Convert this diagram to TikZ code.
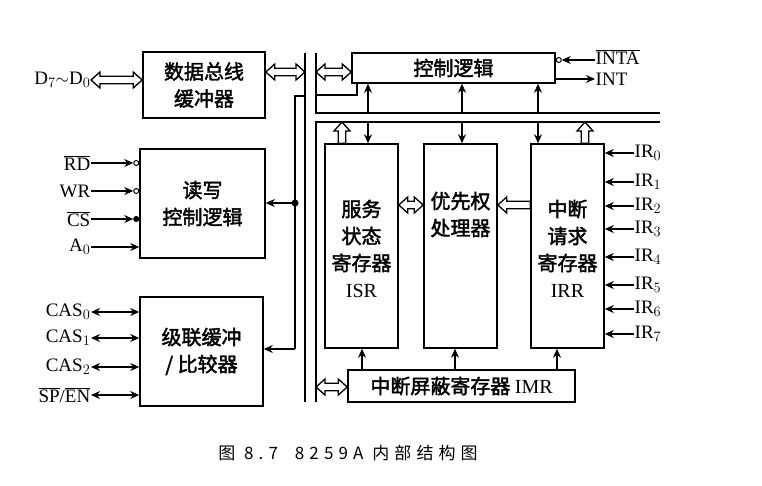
\documentclass[tikz,border=0pt]{standalone}
\usepackage{fontspec}
\setmainfont{Liberation Serif}
\newfontfamily\cjk[FakeBold=2]{Noto Sans CJK SC}
\newfontfamily\capf[LetterSpace=30]{Noto Sans CJK SC}
\usetikzlibrary{arrows.meta, positioning, calc}

\begin{document}
\begin{tikzpicture}[x=1pt, y=-1pt,
    blk/.style={draw, line width=1.5pt, inner sep=0pt, align=center,
      font=\cjk\fontsize{20}{27}\selectfont},
    ln/.style={line width=1.5pt},
    sarr/.style={line width=1.4pt, -{Stealth[length=9pt, width=8pt]}},
    darr/.style={line width=1.4pt, {Stealth[length=9pt, width=8pt]}-{Stealth[length=9pt, width=8pt]}},
    hol/.style={draw, line width=1.3pt, fill=white, to path={
      ($(\tikztostart)!3.8pt!90:(\tikztotarget)$)
      -- ($(\tikztotarget)!9pt!(\tikztostart)!3.8pt!90:(\tikztotarget)$)
      -- ($(\tikztotarget)!9pt!(\tikztostart)!8pt!90:(\tikztotarget)$)
      -- (\tikztotarget)
      -- ($(\tikztotarget)!9pt!(\tikztostart)!8pt!-90:(\tikztotarget)$)
      -- ($(\tikztotarget)!9pt!(\tikztostart)!3.8pt!-90:(\tikztotarget)$)
      -- ($(\tikztostart)!3.8pt!-90:(\tikztotarget)$) -- cycle}},
    dhol/.style={draw, line width=1.3pt, fill=white, to path={
      (\tikztostart)
      -- ($(\tikztostart)!9pt!(\tikztotarget)!8pt!90:(\tikztotarget)$)
      -- ($(\tikztostart)!9pt!(\tikztotarget)!3.8pt!90:(\tikztotarget)$)
      -- ($(\tikztotarget)!9pt!(\tikztostart)!3.8pt!90:(\tikztotarget)$)
      -- ($(\tikztotarget)!9pt!(\tikztostart)!8pt!90:(\tikztotarget)$)
      -- (\tikztotarget)
      -- ($(\tikztotarget)!9pt!(\tikztostart)!8pt!-90:(\tikztotarget)$)
      -- ($(\tikztotarget)!9pt!(\tikztostart)!3.8pt!-90:(\tikztotarget)$)
      -- ($(\tikztostart)!9pt!(\tikztotarget)!3.8pt!-90:(\tikztotarget)$)
      -- ($(\tikztostart)!9pt!(\tikztotarget)!8pt!-90:(\tikztotarget)$) -- cycle}},
    bub/.style={circle, draw, line width=1pt, inner sep=0pt, minimum size=5pt, fill=white},
    lab/.style={inner sep=0.5pt, font=\fontsize{19}{19}\selectfont}]
  \useasboundingbox (0,0) rectangle (762,485);

  % left blocks
  \node[blk, minimum width=122pt, minimum height=66pt] (dbb) at (204,85) {数据总线\\缓冲器};
  \node[blk, minimum width=125pt, minimum height=109pt] (rwc) at (202.5,203.5) {读写\\控制逻辑};
  \node[blk, minimum width=123pt, minimum height=109pt] (cas) at (201.5,351.5) {级联缓冲\\/ 比较器};

  % right blocks
  \node[blk, minimum width=203pt, minimum height=30pt] (ctl) at (453.5,68) {控制逻辑};
  \node[blk, minimum width=73pt, minimum height=204pt] (isr) at (361.5,246) {};
  \node[blk, minimum width=73pt, minimum height=204pt] (pr) at (460.5,246) {};
  \node[blk, minimum width=73pt, minimum height=204pt] (irr) at (567.5,246) {};
  \node[blk, minimum width=227pt, minimum height=32pt] (imr) at (461.5,386) {中断屏蔽寄存器 {\rmfamily IMR}};
  \node[blk, draw=none, anchor=north] (isrt) at (361.5,199) {服务\\状态\\寄存器\\{\rmfamily ISR}};
  \node[blk, draw=none, anchor=north] (prt) at (460.5,191) {优先权\\处理器};
  \node[blk, draw=none, anchor=north] (irrt) at (567.5,199) {中断\\请求\\寄存器\\{\rmfamily IRR}};

  % internal bus
  \coordinate (bA) at (305,53);
  \coordinate (bB) at (316,53);
  \coordinate (bC) at (295,96);
  \draw[ln] (bA) -- (305,402);
  \draw[ln] (bB) -- (316,113) -- (660,113);
  \draw[ln] (660,122) -- (316,122) -- (316,402);
  \draw[ln] (bA |- bC) -- (bC) -- (295,349) coordinate (casin);
  \coordinate (rwin) at (295,203);
  \fill (rwin) circle (3.5pt);
  \draw[sarr] (rwin) -- (rwc.east |- rwin);
  \draw[sarr] (casin) -- (cas.east |- casin);
  \draw[ln] (316,95) -- (357,95) -- (357,0 |- ctl.south);

  % wide arrows
  \draw[dhol] (dbb.east |- 0,72) to (bA |- 0,72);
  \draw[dhol] (bB |- 0,72) to (ctl.west |- 0,72);
  \draw[dhol] (bB |- 0,387) to (imr.west |- 0,387);
  \draw[dhol] (isr.east |- 0,205) to (pr.west |- 0,205);
  \draw[hol] (irr.west |- 0,205) to (pr.east |- 0,205);
  \draw[hol] (342,0 |- isr.north) to (342,122);
  \draw[hol] (585,0 |- irr.north) to (585,122);

  % bus <-> blocks
  \foreach \xx in {368,462,538}{
    \draw[sarr] (\xx,113) -- (\xx,0 |- ctl.south);
    \draw[sarr] (\xx,122) -- (\xx,0 |- isr.north);
  }
  \foreach \xx in {362,455,557}
    \draw[sarr] (\xx,0 |- imr.north) -- (\xx,0 |- isr.south);

  % INTA / INT
  \node[lab, anchor=west] (inta) at (595,57) {$\overline{\mbox{INTA}}$};
  \node[lab, anchor=west] (int) at (595,79) {INT};
  \node[bub, anchor=west] (binta) at (ctl.east |- 0,60) {};
  \draw[sarr] (inta.west |- binta) -- (binta.east);
  \draw[sarr] (ctl.east |- int.west) -- (int.west);

  % IR inputs
  \foreach \i/\yy in {0/153,1/182,2/206,3/229,4/257,5/285,6/309,7/334}{
    \node[lab, anchor=west] (ir\i) at (634,\yy) {IR$_{\i}$};
    \draw[sarr] (ir\i.west) -- (irr.east |- ir\i.west);
  }

  % data bus
  \node[lab, anchor=east] (dat) at (91,80) {D$_7$$\sim$D$_0$};
  \draw[dhol] (dat.east) to (dbb.west |- dat.east);

  % read/write inputs
  \node[lab, anchor=east] (rd) at (91,163) {$\overline{\mbox{RD}}$};
  \node[lab, anchor=east] (wr) at (91,191) {WR};
  \node[lab, anchor=east] (cs) at (91,219) {$\overline{\mbox{CS}}$};
  \node[lab, anchor=east] (a0) at (91,247) {A$_0$};
  \foreach \s in {rd,wr}{
    \node[bub, anchor=east] (b\s) at (rwc.west |- \s.east) {};
    \draw[sarr] (\s.east) -- (b\s.west);
  }
  \node[bub, fill=black, anchor=east] (bcs) at (rwc.west |- cs.east) {};
  \draw[sarr] (cs.east) -- (bcs.west);
  \draw[sarr] (a0.east) -- (rwc.west |- a0.east);

  % cascade
  \node[lab, anchor=east] (c0) at (91,312) {CAS$_0$};
  \node[lab, anchor=east] (c1) at (91,338) {CAS$_1$};
  \node[lab, anchor=east] (c2) at (91,367) {CAS$_2$};
  \node[lab, anchor=east] (spen) at (91,395) {$\overline{\mbox{SP}}$/$\overline{\mbox{EN}}$};
  \foreach \s in {c0,c1,c2,spen}
    \draw[darr] (\s.east) -- (cas.west |- \s.east);

  \node[font=\capf\fontsize{17}{17}\selectfont] (cap) at (348,453) {图 8.7\hspace{1em}8259A 内部结构图};
\end{tikzpicture}
\end{document}
